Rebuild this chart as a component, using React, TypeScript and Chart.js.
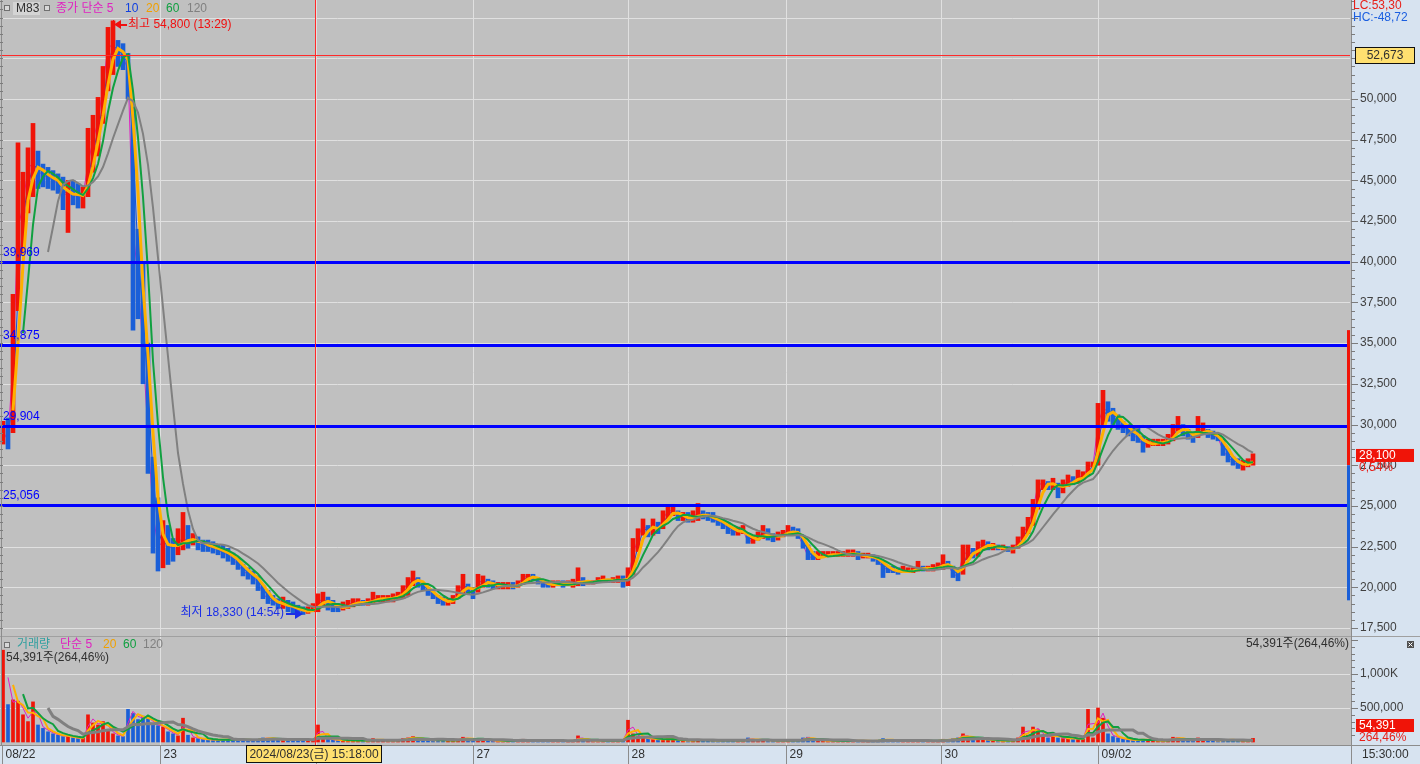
import React, { useEffect, useRef } from 'react';
import { Chart, registerables } from 'chart.js';

Chart.register(...registerables);

// ---------- DATA (one sample per ~2 minutes of trading) ----------
const closes = [
  29600, 29000, 34000, 42000, 43500, 45800, 46000, 45600, 45300, 45200,
  45000, 44800, 44000, 44300, 44200, 43900, 44100, 46000, 47500, 48600,
  50800, 53200, 53300, 52800, 52600, 51800, 42000, 39000, 34500, 29500,
  24500, 22500,
  22800, 22600, 22300, 22800, 23000, 22800, 23000, 22700, 22600, 22500,
  22400, 22300, 22100, 22000, 21700, 21400, 21000, 20800, 20600, 20300,
  19600, 19300, 19100, 18900, 19000, 18800, 18700, 18600, 18500, 18500,
  18700,
  19100, 19300, 19000, 18800, 18700, 18800, 18900, 19100, 19100, 19000,
  19100, 19300, 19300, 19300, 19300, 19400, 19500, 19800, 20300, 20700,
  20300, 20000, 19700, 19500, 19200, 19100, 19100, 19300, 19800, 20200,
  19900,
  19600, 20300, 20400, 20200, 20100, 20100, 20100, 20100, 20000, 20200,
  20600, 20700, 20600, 20400, 20200, 20100, 20200, 20200, 20100, 20200,
  20200, 20500, 20300, 20300, 20300, 20500, 20500, 20400, 20400, 20500,
  20400,
  20600, 22000, 23000, 23900, 23400, 23800, 23600, 24200, 24700, 24700,
  24300, 24300, 24200, 24300, 24600, 24400, 24300, 24200, 24000, 23900,
  23600, 23400, 23400, 23500, 22800, 22900, 23100, 23400, 23200, 23000,
  23200,
  23300, 23500, 23400, 23200, 22600, 21900, 21800, 21800, 22000, 22000,
  22000, 22000, 22000, 22100, 22100, 21900, 21900, 21900, 21800, 21600,
  21200, 21100, 21000, 20900, 21000, 21000, 21000, 21300, 21100, 21100,
  21200,
  21300, 21500, 21400, 20800, 20700, 22000, 22200, 22000, 22500, 22700,
  22500, 22500, 22400, 22400, 22300, 22400, 22800, 23300, 23800, 24800,
  26300, 26400, 26300, 26400, 26000, 26200, 26600, 26500, 26800, 26800,
  27400, 27500, 30000, 31000, 30800, 30500, 30200, 29800, 29700, 29300,
  29200, 28700, 28800, 28900, 28900, 28900, 29100, 29500, 30000, 29600,
  29400, 29100, 29700, 29700, 29400, 29300, 29200, 28400, 28000, 27700,
  27500, 27500, 27600, 28100,
];

const highs = [
  30200, 30400, 38000, 47300, 45500, 47000, 48500, 46800, 46000, 45800,
  45600, 45400, 45200, 45000, 45000, 44800, 44600, 48200, 49000, 50100,
  52000, 54400, 54800, 53600, 53400, 52800, 49500, 42000, 40000, 35000,
  28000, 25500,
  24100, 23800, 23000, 23600, 24600, 23800, 23300, 23100, 22900, 22900,
  22800, 22600, 22600, 22400, 22100, 21800, 21400, 21200, 21000, 20700,
  20100, 19800, 19500, 19300, 19400, 19200, 19100, 18900, 18800, 18800,
  19000,
  19600, 19700, 19400, 19200, 19000, 19100, 19200, 19300, 19300, 19200,
  19300, 19700, 19500, 19500, 19500, 19600, 19700, 20100, 20600, 21000,
  20600, 20200, 20000, 19800, 19500, 19400, 19300, 19500, 20100, 20800,
  20200,
  20000, 20800, 20700, 20500, 20400, 20300, 20300, 20300, 20300, 20400,
  20800, 20800, 20800, 20600, 20400, 20300, 20400, 20400, 20400, 20400,
  20500, 21200, 20600, 20400, 20400, 20600, 20700, 20500, 20600, 20700,
  20700,
  21200, 23000, 23600, 24200, 23800, 24200, 24000, 24700, 25000, 25100,
  24700, 24600, 24600, 24700, 25150, 24700, 24600, 24600, 24300, 24200,
  24000, 23600, 23700, 23800, 23300, 23200, 23400, 23800, 23600, 23300,
  23400,
  23500, 23800, 23700, 23600, 23200, 22600, 22200, 22200, 22200, 22200,
  22200, 22200, 22200, 22300, 22300, 22200, 22100, 22100, 22000, 21800,
  21600, 21300, 21300, 21200, 21300, 21200, 21200, 21600, 21300, 21300,
  21400,
  21500, 22000, 21600, 21300, 21000, 22600, 22600, 22400, 22800, 22900,
  22800, 22700, 22600, 22600, 22500, 22600, 23100, 23700, 24300, 25400,
  26600, 26600, 26500, 26700, 26400, 26600, 26900, 26800, 27200, 27100,
  27700, 27700, 31300, 32100, 31400, 31000, 30600, 30200, 30000, 29800,
  29800, 29300, 29100, 29100, 29100, 29100, 29400, 30000, 30500, 30000,
  29700, 29500, 30500, 30100, 29700, 29600, 29400, 29100, 28500, 28000,
  27900, 27800, 27900, 28200,
];

const lows = [
  28800, 28500, 29500, 37000, 40500, 43000, 44000, 44500, 44600, 44500,
  44400, 44200, 43200, 41800, 43500, 43300, 43300, 44000, 45500, 46500,
  48500, 50500, 51500, 52000, 51800, 50000, 35800, 36500, 32500, 27000,
  22100, 21000,
  21200, 21400, 21600, 22000, 22300, 22400, 22600, 22300, 22200, 22200,
  22100, 22000, 21800, 21600, 21400, 21100, 20700, 20500, 20200, 19800,
  19300, 19000, 18900, 18700, 18700, 18500, 18400, 18330, 18330, 18400,
  18500,
  18500, 18900, 18600, 18500, 18500, 18600, 18700, 18800, 18900, 18900,
  18900, 19000, 19100, 19100, 19100, 19100, 19300, 19300, 19500, 20100,
  20000, 19800, 19500, 19300, 19000, 18900, 18900, 19000, 19300, 19600,
  19600,
  19300, 19700, 20000, 20000, 19900, 19900, 19900, 19900, 19900, 20000,
  20200, 20400, 20400, 20200, 20000, 20000, 20000, 20100, 20000, 20100,
  20000, 20100, 20100, 20200, 20200, 20300, 20300, 20300, 20300, 20300,
  20000,
  20100, 20800, 22200, 23200, 23100, 23200, 23300, 23600, 24200, 24400,
  24100, 24100, 24000, 24000, 24100, 24200, 24100, 24000, 23800, 23600,
  23300, 23200, 23200, 23300, 22700, 22700, 22900, 23000, 22900, 22800,
  22900,
  23100, 23200, 23200, 23000, 22400, 21700, 21700, 21700, 21900, 21900,
  21900, 21900, 21900, 21900, 21900, 21700, 21800, 21800, 21600, 21400,
  20600, 20900, 20900, 20800, 20900, 20900, 20900, 21000, 21000, 21000,
  21000,
  21100, 21100, 21200, 20600, 20400, 20800, 21700, 21800, 21900, 22300,
  22300, 22300, 22300, 22300, 22200, 22100, 22400, 22900, 23300, 23800,
  24800, 26000, 26000, 26000, 25500, 25800, 26200, 26300, 26400, 26600,
  26900, 27400, 27500, 29800, 30200, 30000, 29700, 29500, 29300, 29000,
  28900, 28300, 28600, 28700, 28700, 28700, 28800, 29000, 29600, 29300,
  29100, 28900, 29200, 29400, 29200, 29100, 29000, 28100, 27700, 27500,
  27300, 27200, 27400, 27500,
];

const volumes = [
  1350000, 550000, 620000, 600000, 400000, 300000, 590000, 250000, 200000, 150000,
  120000, 100000, 80000, 90000, 60000, 50000, 60000, 400000, 280000, 250000,
  300000, 180000, 120000, 90000, 80000, 480000, 420000, 330000, 380000, 350000,
  260000, 240000,
  220000, 150000, 120000, 90000, 350000, 100000, 60000, 50000, 40000, 35000,
  30000, 30000, 35000, 40000, 30000, 35000, 30000, 30000, 30000, 40000,
  60000, 55000, 45000, 35000, 30000, 30000, 25000, 35000, 30000, 25000,
  30000,
  250000, 60000, 40000, 30000, 25000, 25000, 20000, 25000, 20000, 20000,
  20000, 50000, 25000, 20000, 20000, 25000, 30000, 50000, 60000, 80000,
  40000, 30000, 25000, 20000, 30000, 25000, 20000, 20000, 40000, 70000,
  40000,
  30000, 50000, 40000, 20000, 15000, 15000, 15000, 15000, 15000, 20000,
  40000, 30000, 20000, 20000, 15000, 15000, 15000, 15000, 15000, 15000,
  20000, 90000, 25000, 15000, 15000, 20000, 25000, 15000, 15000, 20000,
  30000,
  320000, 120000, 80000, 60000, 40000, 50000, 30000, 40000, 50000, 35000,
  25000, 20000, 20000, 25000, 40000, 25000, 20000, 20000, 20000, 25000,
  30000, 20000, 20000, 20000, 60000, 30000, 25000, 30000, 20000, 20000,
  20000,
  20000, 30000, 20000, 25000, 60000, 70000, 30000, 25000, 20000, 15000,
  15000, 15000, 15000, 15000, 15000, 20000, 15000, 15000, 15000, 20000,
  50000, 25000, 20000, 15000, 15000, 15000, 15000, 30000, 15000, 15000,
  15000,
  20000, 40000, 25000, 50000, 60000, 120000, 60000, 40000, 50000, 40000,
  25000, 20000, 20000, 20000, 20000, 25000, 60000, 220000, 100000, 220000,
  180000, 80000, 60000, 130000, 60000, 50000, 60000, 40000, 50000, 40000,
  480000, 60000, 500000, 350000, 120000, 80000, 60000, 40000, 30000, 30000,
  30000, 40000, 25000, 20000, 20000, 20000, 30000, 70000, 60000, 30000,
  25000, 20000, 60000, 40000, 25000, 20000, 20000, 40000, 30000, 25000,
  20000, 20000, 20000, 54391,
];

// time axis: sample index where each trading day starts, and its label
const dayStarts = [-0.2, 31.4, 62.6, 94, 125, 156.6, 187.6, 219];
const dayLabels = ['08/22', '23', '26', '27', '28', '29', '30', '09/02'];

const priceTicks = [17500, 20000, 22500, 25000, 27500, 30000, 32500, 35000, 37500, 40000, 42500, 45000, 47500, 50000, 52500, 55000];
const volTicks = [500000, 1000000];
const volTickLabels = ['500,000', '1,000K'];

const levelLines = [39969, 34875, 29904, 25056];
const refPrice = 52673;
const highPoint = { price: 54800, idx: 22, label: '최고 54,800 (13:29)' };
const lowPoint = { price: 18330, idx: 60, label: '최저 18,330 (14:54)' };
const rangeBar = [35800, 27500, 19200];
const crossIdx = 62.4;
const crossLabel = '2024/08/23(금) 15:18:00';
const lastPrice = '28,100';
const lastChange = '0,54%';
const lastVolume = '54,391';
const lastVolPct = '264,46%';

// ---------- STYLE ----------
const PLOT_BG = '#c0c0c0';
const AXIS_BG = '#d7e3f0';
const GRID = '#e0e0e0';
const RED = '#f01408';
const BLUE = '#1a5fd8';
const LINE_RED = '#ff2a2a';
const FONT = "12px 'Liberation Sans', 'Noto Sans CJK KR', sans-serif";

function sma(src: number[], n: number): (number | null)[] {
  return src.map((_, i) => {
    if (i < n - 1) return null;
    let s = 0;
    for (let k = i - n + 1; k <= i; k++) s += src[k];
    return s / n;
  });
}

function fmt(v: number) {
  return v.toLocaleString('en-US');
}

function txt(ctx: CanvasRenderingContext2D, s: string, x: number, y: number, color: string, align: CanvasTextAlign = 'left') {
  ctx.font = FONT;
  ctx.fillStyle = color;
  ctx.textAlign = align;
  ctx.textBaseline = 'middle';
  ctx.fillText(s, x, y);
}

function hline(ctx: CanvasRenderingContext2D, x1: number, x2: number, y: number) {
  ctx.beginPath();
  ctx.moveTo(x1, y);
  ctx.lineTo(x2, y);
  ctx.stroke();
}

function vline(ctx: CanvasRenderingContext2D, x: number, y1: number, y2: number) {
  ctx.beginPath();
  ctx.moveTo(x, y1);
  ctx.lineTo(x, y2);
  ctx.stroke();
}

function smallBox(ctx: CanvasRenderingContext2D, x: number, y: number) {
  ctx.fillStyle = '#d8d8d8';
  ctx.fillRect(x, y, 6, 6);
  ctx.strokeStyle = '#707070';
  ctx.lineWidth = 1;
  ctx.strokeRect(x + 0.5, y + 0.5, 5, 5);
}

const deco = {
  id: 'deco',
  beforeDatasetsDraw(chart: any) {
    const ctx: CanvasRenderingContext2D = chart.ctx;
    const sx = chart.scales.x, sy = chart.scales.y, sv = chart.scales.yv;
    ctx.save();
    ctx.fillStyle = PLOT_BG;
    ctx.fillRect(0, 0, 1351, 745);
    ctx.fillStyle = AXIS_BG;
    ctx.fillRect(1351, 0, 69, 764);
    ctx.fillRect(0, 745, 1351, 19);
    ctx.strokeStyle = GRID;
    ctx.lineWidth = 1;
    for (const t of priceTicks) hline(ctx, 0, 1350, Math.round(sy.getPixelForValue(t)) + 0.5);
    for (const t of volTicks) hline(ctx, 0, 1350, Math.round(sv.getPixelForValue(t)) + 0.5);
    for (const d of dayStarts.slice(1)) vline(ctx, Math.round(sx.getPixelForValue(d)) + 0.5, 0, 745);
    ctx.restore();
  },
  afterDatasetsDraw(chart: any) {
    const ctx: CanvasRenderingContext2D = chart.ctx;
    const sx = chart.scales.x, sy = chart.scales.y, sv = chart.scales.yv;
    ctx.save();

    // reference red line
    const ry = Math.round(sy.getPixelForValue(refPrice));
    ctx.fillStyle = LINE_RED;
    ctx.fillRect(0, ry, 1350, 1);

    // blue level lines
    for (const lv of levelLines) {
      const py = Math.round(sy.getPixelForValue(lv));
      ctx.fillStyle = '#0000ff';
      ctx.fillRect(0, py - 1, 1350, 3);
      txt(ctx, fmt(lv), 3, py - 9, '#0000ff');
    }

    // range bar
    const r0 = sy.getPixelForValue(rangeBar[0]);
    const r1 = sy.getPixelForValue(rangeBar[1]);
    const r2 = sy.getPixelForValue(rangeBar[2]);
    ctx.fillStyle = RED;
    ctx.fillRect(1347, r0, 3, r1 - r0);
    ctx.fillStyle = BLUE;
    ctx.fillRect(1347, r1, 3, r2 - r1);

    // crosshair
    ctx.fillStyle = LINE_RED;
    ctx.fillRect(Math.round(sx.getPixelForValue(crossIdx)), 0, 1, 745);

    // panel separator / borders
    ctx.lineWidth = 1;
    ctx.strokeStyle = '#a0a0a0';
    hline(ctx, 0, 1420, 636.5);
    ctx.strokeStyle = '#8c8c8c';
    hline(ctx, 0, 1420, 745.5);
    vline(ctx, 1351.5, 0, 764);
    vline(ctx, 1.5, 0, 745);

    // right price axis ticks and labels
    ctx.strokeStyle = '#7c7c7c';
    for (let p = 17000; p <= 56000; p += 500) {
      const py = Math.round(sy.getPixelForValue(p)) + 0.5;
      if (py > 634 || py < 0) continue;
      const major = p % 2500 === 0;
      hline(ctx, 1351, major ? 1358 : 1355, py);
      hline(ctx, 0, 3, py);
    }
    for (const t of priceTicks) {
      if (t > 50000) continue;
      txt(ctx, fmt(t), 1360, sy.getPixelForValue(t), '#404040');
    }
    // volume axis ticks and labels
    for (let v = 100000; v <= 1500000; v += 100000) {
      const py = Math.round(sv.getPixelForValue(v)) + 0.5;
      if (py < 640) continue;
      const major = v % 500000 === 0;
      hline(ctx, 1351, major ? 1358 : 1355, py);
    }
    volTicks.forEach((t, i) => txt(ctx, volTickLabels[i], 1360, sv.getPixelForValue(t), '#404040'));

    // top-right LC / HC
    txt(ctx, 'LC:53,30', 1353, 6, '#e8201a');
    txt(ctx, 'HC:-48,72', 1353, 18, '#1a5ee0');

    // ref price box
    ctx.fillStyle = '#ffe070';
    ctx.fillRect(1355, ry - 8, 60, 17);
    ctx.strokeStyle = '#101010';
    ctx.strokeRect(1355.5, ry - 7.5, 59, 16);
    txt(ctx, fmt(refPrice), 1385, ry + 0.5, '#303030', 'center');

    // last price box
    const ly = sy.getPixelForValue(closes[closes.length - 1]);
    ctx.fillStyle = RED;
    ctx.fillRect(1356, ly - 6.5, 58, 13);
    txt(ctx, lastPrice, 1359, ly, '#ffffff');
    txt(ctx, lastChange, 1359, ly + 12, '#e8201a');

    // last volume box
    ctx.fillStyle = RED;
    ctx.fillRect(1356, 719, 58, 13);
    txt(ctx, lastVolume, 1359, 725.5, '#ffffff');
    txt(ctx, lastVolPct, 1359, 738, '#e8201a');

    // time at bottom right
    txt(ctx, '15:30:00', 1362, 754.5, '#303030');

    // top legend
    smallBox(ctx, 4, 5);
    ctx.fillStyle = '#d4d4d4';
    ctx.fillRect(13, 2, 27, 13);
    txt(ctx, 'M83', 16, 8.5, '#303030');
    smallBox(ctx, 44, 5);
    txt(ctx, '종가 단순 5', 56, 8.5, '#e020c0');
    txt(ctx, '10', 125, 8.5, '#1040e0');
    txt(ctx, '20', 146, 8.5, '#f0a000');
    txt(ctx, '60', 166, 8.5, '#10a040');
    txt(ctx, '120', 187, 8.5, '#808080');

    // volume legend
    smallBox(ctx, 4, 642);
    txt(ctx, '거래량', 17, 645, '#30a0a0');
    txt(ctx, '단순 5', 60, 645, '#e020c0');
    txt(ctx, '20', 103, 645, '#f0a000');
    txt(ctx, '60', 123, 645, '#10a040');
    txt(ctx, '120', 143, 645, '#808080');
    const volText = `${lastVolume}주(${lastVolPct})`;
    txt(ctx, volText, 6, 658, '#303030');
    txt(ctx, volText, 1349, 644, '#303030', 'right');
    ctx.fillStyle = '#505050';
    ctx.fillRect(1407, 641, 7, 7);
    ctx.strokeStyle = '#ffffff';
    ctx.beginPath();
    ctx.moveTo(1408.5, 642.5); ctx.lineTo(1412.5, 646.5);
    ctx.moveTo(1412.5, 642.5); ctx.lineTo(1408.5, 646.5);
    ctx.stroke();

    // high annotation
    const hx = Math.round(sx.getPixelForValue(highPoint.idx));
    const hy = Math.round(sy.getPixelForValue(highPoint.price)) + 3;
    ctx.fillStyle = '#f01010';
    ctx.fillRect(hx, hy - 4, 1, 9);
    ctx.beginPath();
    ctx.moveTo(hx + 1, hy + 0.5); ctx.lineTo(hx + 8, hy - 4); ctx.lineTo(hx + 8, hy + 5); ctx.closePath();
    ctx.fill();
    ctx.fillRect(hx + 8, hy, 6, 2);
    txt(ctx, highPoint.label, hx + 15, hy + 1, '#f01010');

    // low annotation
    const lx = Math.round(sx.getPixelForValue(lowPoint.idx));
    const lowY = Math.round(sy.getPixelForValue(lowPoint.price)) - 1;
    ctx.fillStyle = '#1a2ee8';
    ctx.fillRect(lx - 17, lowY, 10, 2);
    ctx.beginPath();
    ctx.moveTo(lx, lowY + 1); ctx.lineTo(lx - 8, lowY - 4); ctx.lineTo(lx - 8, lowY + 6); ctx.closePath();
    ctx.fill();
    txt(ctx, lowPoint.label, lx - 19, lowY, '#1a2ee8', 'right');

    // bottom date labels
    ctx.strokeStyle = '#8c8c8c';
    dayStarts.forEach((d, i) => {
      const px = Math.round(sx.getPixelForValue(d)) + 0.5;
      vline(ctx, px, 745, 764);
      txt(ctx, dayLabels[i], px + 3, 754.5, '#303030');
    });

    // crosshair date box
    ctx.fillStyle = '#ffe070';
    ctx.fillRect(246, 745, 136, 18);
    ctx.strokeStyle = '#101010';
    ctx.strokeRect(246.5, 745.5, 135, 17);
    txt(ctx, crossLabel, 314, 754.5, '#303030', 'center');

    ctx.restore();
  },
};

export default function App() {
  const ref = useRef<HTMLCanvasElement>(null);

  useEffect(() => {
    document.body.style.margin = '0';
    const canvas = ref.current!;
    const idx = closes.map((_, i) => i);
    const colors = closes.map((c, i) => (i === 0 || c >= closes[i - 1] ? RED : BLUE));
    const ma5 = sma(closes, 1);
    const ma10 = sma(closes, 2);
    const ma20 = sma(closes, 3);
    const ma60 = sma(closes, 5);
    const ma120 = sma(closes, 10);
    const vma5 = sma(volumes, 2);
    const vma20 = sma(volumes, 3);
    const vma60 = sma(volumes, 5);
    const vma120 = sma(volumes, 10);

    const line = (arr: (number | null)[], color: string, width: number, axis: string, order: number) => ({
      type: 'line' as const,
      data: idx.map((i) => ({ x: i, y: arr[i] })),
      borderColor: color,
      borderWidth: width,
      pointRadius: 0,
      tension: 0,
      fill: false,
      yAxisID: axis,
      order,
    });

    const chart = new Chart(canvas, {
      type: 'bar',
      data: {
        datasets: [
          {
            type: 'bar',
            data: idx.map((i) => ({ x: i, y: [lows[i], highs[i]] })) as any,
            backgroundColor: colors,
            barThickness: 4,
            grouped: false,
            yAxisID: 'y',
            order: 4,
          } as any,
          line(ma120, '#808080', 2, 'y', 1),
          line(ma60, '#10a040', 2, 'y', 2),
          line(ma20, '#ffb000', 3, 'y', 3),
          line(ma10, '#1050e0', 1, 'y', 5),
          line(ma5, '#e020c0', 1, 'y', 6),
          {
            type: 'bar',
            data: idx.map((i) => ({ x: i, y: volumes[i] })) as any,
            backgroundColor: colors,
            barThickness: 3,
            grouped: false,
            yAxisID: 'yv',
            order: 8,
          } as any,
          line(vma5, '#e020c0', 1, 'yv', 0),
          line(vma20, '#ffb000', 2, 'yv', -1),
          line(vma60, '#10a040', 2, 'yv', -2),
          line(vma120, '#808080', 3, 'yv', -3),
        ],
      },
      options: {
        animation: false,
        responsive: false,
        devicePixelRatio: 1,
        events: [],
        layout: { padding: { left: 0, right: 70, top: 0, bottom: 19 } },
        plugins: { legend: { display: false }, tooltip: { enabled: false } },
        scales: {
          x: { type: 'linear', min: -0.6, max: 269.4, offset: false, display: false },
          y: { type: 'linear', min: 10312, max: 56082, display: false },
          yv: { type: 'linear', min: -44118, max: 10911765, display: false },
        },
      } as any,
      plugins: [deco],
    });
    return () => chart.destroy();
  }, []);

  return (
    <div style={{ position: 'fixed', left: 0, top: 0, width: 1420, height: 764, background: PLOT_BG }}>
      <canvas ref={ref} width={1420} height={764} style={{ display: 'block', width: 1420, height: 764 }} />
    </div>
  );
}
